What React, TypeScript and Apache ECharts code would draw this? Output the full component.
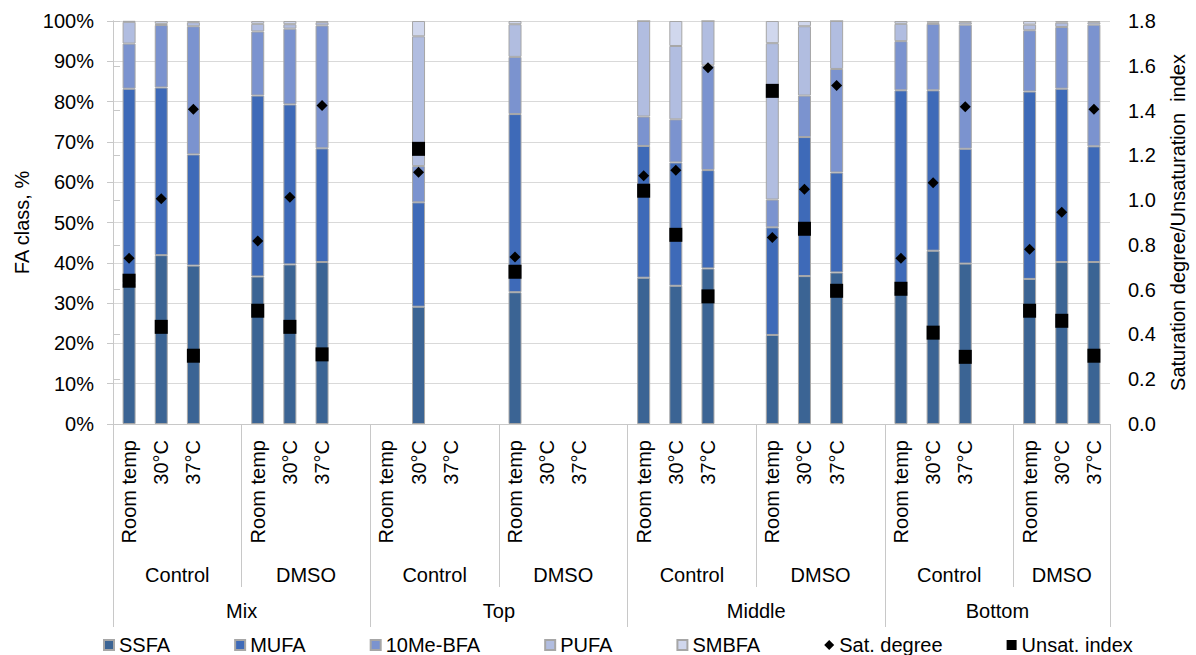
import React, { useEffect, useRef } from "react";
import * as echarts from "echarts";

// Category hierarchy: layer > treatment > temperature
const layers = ["Mix", "Top", "Middle", "Bottom"];
const treatments = ["Control", "DMSO"];
const temps = ["Room temp", "30°C", "37°C"];

// FA class composition (%), one entry per sample in layer > treatment > temperature order
const ssfa = [35, 41.9, 39.3, 36.6, 39.6, 40.2, null, 29.1, null, 32.7, null, null, 36.3, 34.3, 38.6, 22.1, 36.7, 37.6, 33, 43.0, 39.8, 36.0, 40.2, 40.2];
const mufa = [48.2, 41.6, 27.6, 44.9, 39.7, 28.2, null, 25.9, null, 44.2, null, null, 32.7, 30.6, 24.4, 26.7, 34.5, 24.8, 49.8, 39.8, 28.5, 46.5, 43.0, 28.7];
const me10bfa = [11.2, 15.5, 31.8, 15.9, 18.8, 30.5, null, 9.0, null, 14.2, null, null, 7.3, 10.7, 26.0, 6.9, 10.3, 25.7, 12.2, 16.5, 30.8, 15.2, 15.3, 30.2];
const pufa = [5.4, 0.3, 1.0, 1.9, 1.1, 0.8, null, 32.2, null, 8.1, null, null, 23.7, 18.2, 11.0, 38.8, 17.2, 11.9, 4.3, 0.3, 0.6, 1.4, 1.1, 0.6];
const smbfa = [0.2, 0.7, 0.3, 0.7, 0.8, 0.3, null, 3.8, null, 0.8, null, null, 0, 6.2, 0, 5.5, 1.3, 0, 0.7, 0.4, 0.3, 0.9, 0.4, 0.3];

// Indices (right axis)
const satDegree = [0.74, 1.006, 1.406, 0.817, 1.013, 1.423, null, 1.125, null, 0.746, null, null, 1.109, 1.133, 1.591, 0.833, 1.049, 1.512, 0.74, 1.077, 1.417, 0.781, 0.946, 1.406];
const unsatIndex = [0.64, 0.434, 0.305, 0.506, 0.434, 0.311, null, 1.229, null, 0.68, null, null, 1.042, 0.845, 0.57, 1.488, 0.872, 0.595, 0.604, 0.408, 0.3, 0.506, 0.461, 0.305];

const leftTicks = { min: 0, max: 100, interval: 10 };
const rightTicks = { min: 0, max: 1.8, interval: 0.2 };

const FONT = "'Liberation Sans', Arial, sans-serif";
const GRID_LINE = "#d9d9d9";
const AXIS_LINE = "#c8c8c8";

// Build axis slots: three temperatures per treatment, with an empty slot between treatment blocks
const slotLabels: string[] = [];
const slotSample: (number | null)[] = [];
const nBlocks = layers.length * treatments.length;
for (let b = 0; b < nBlocks; b++) {
  for (let t = 0; t < temps.length; t++) {
    slotLabels.push(temps[t]);
    slotSample.push(b * temps.length + t);
  }
  if (b < nBlocks - 1) {
    slotLabels.push("");
    slotSample.push(null);
  }
}
const nSlots = slotLabels.length;

// Block extents on a continuous 0..nSlots scale
const blockStart = (b: number) => b * (temps.length + 1);
const blockWidth = (b: number) => (b < nBlocks - 1 ? temps.length + 1 : temps.length);
const treatmentCenters = Array.from({ length: nBlocks }, (_, b) => blockStart(b) + blockWidth(b) / 2);
const treatmentDividers = Array.from({ length: layers.length }, (_, l) => blockStart(l * 2 + 1));
const layerStart = (l: number) => blockStart(l * 2);
const layerEnd = (l: number) => (l < layers.length - 1 ? blockStart(l * 2 + 2) : nSlots);
const layerCenters = layers.map((_, l) => (layerStart(l) + layerEnd(l)) / 2);
const layerDividers = [...layers.map((_, l) => layerStart(l)), nSlots];

const toSlots = (arr: (number | null)[]) =>
  slotSample.map((i) => (i == null || arr[i] == null ? "-" : arr[i]));

const findIdx = (list: number[], v: number) => list.findIndex((c) => Math.abs(c - v) < 1e-6);

export default function App() {
  const ref = useRef<HTMLDivElement>(null);

  useEffect(() => {
    if (!ref.current) return;
    const chart = echarts.init(ref.current, undefined, { renderer: "svg" });

    const barSeries = [
      { name: "SSFA", data: ssfa, color: "#3b6494" },
      { name: "MUFA", data: mufa, color: "#3e6ab8" },
      { name: "10Me-BFA", data: me10bfa, color: "#7b93cf" },
      { name: "PUFA", data: pufa, color: "#b1bde0" },
      { name: "SMBFA", data: smbfa, color: "#d0d7ed" },
    ].map((s) => ({
      name: s.name,
      type: "bar",
      stack: "fa",
      xAxisIndex: 0,
      yAxisIndex: 0,
      barWidth: 13,
      data: toSlots(s.data),
      itemStyle: { color: s.color, borderColor: "#a6a6a6", borderWidth: 1 },
    }));

    const textStyle = { color: "#000", fontFamily: FONT, fontSize: 20 };

    chart.setOption({
      animation: false,
      textStyle: { fontFamily: FONT },
      grid: { left: 113, right: 84, top: 21, bottom: 231 },
      legend: {
        left: 103,
        top: 635,
        padding: 0,
        itemWidth: 10,
        itemHeight: 10,
        itemGap: 64,
        textStyle: { ...textStyle, lineHeight: 20 },
        data: [
          { name: "SSFA", icon: "rect" },
          { name: "MUFA", icon: "rect" },
          { name: "10Me-BFA", icon: "rect" },
          { name: "PUFA", icon: "rect" },
          { name: "SMBFA", icon: "rect" },
          { name: "Sat. degree", icon: "diamond" },
          { name: "Unsat. index", icon: "rect" },
        ],
      },
      xAxis: [
        {
          type: "category",
          data: slotLabels,
          position: "bottom",
          axisLine: { show: true, lineStyle: { color: AXIS_LINE, width: 1 } },
          axisTick: { show: false },
          axisLabel: { ...textStyle, rotate: 90, interval: 0, margin: 16 },
          splitLine: { show: false },
        },
        {
          type: "value",
          min: 0,
          max: nSlots,
          position: "bottom",
          axisLine: { show: false },
          splitLine: { show: false },
          axisTick: {
            show: true,
            customValues: treatmentDividers,
            length: 163,
            lineStyle: { color: AXIS_LINE, width: 1 },
          },
          axisLabel: {
            ...textStyle,
            customValues: treatmentCenters,
            margin: 141,
            formatter: (v: number) => {
              const i = findIdx(treatmentCenters, v);
              return i < 0 ? "" : treatments[i % treatments.length];
            },
          },
        },
        {
          type: "value",
          min: 0,
          max: nSlots,
          position: "bottom",
          axisLine: { show: false },
          splitLine: { show: false },
          axisTick: {
            show: true,
            customValues: layerDividers,
            length: 203,
            lineStyle: { color: AXIS_LINE, width: 1 },
          },
          axisLabel: {
            ...textStyle,
            customValues: layerCenters,
            margin: 177,
            formatter: (v: number) => {
              const i = findIdx(layerCenters, v);
              return i < 0 ? "" : layers[i];
            },
          },
        },
      ],
      yAxis: [
        {
          type: "value",
          ...leftTicks,
          name: "FA class, %",
          nameLocation: "middle",
          nameRotate: 90,
          nameGap: 81,
          nameTextStyle: textStyle,
          axisLine: { show: true, lineStyle: { color: AXIS_LINE } },
          axisTick: { show: true, length: 6, lineStyle: { color: AXIS_LINE } },
          axisLabel: { ...textStyle, margin: 19, formatter: "{value}%" },
          splitLine: { show: true, lineStyle: { color: GRID_LINE, width: 1 } },
        },
        {
          type: "value",
          ...rightTicks,
          position: "right",
          name: "Saturation degree/Unsaturation  index",
          nameLocation: "middle",
          nameRotate: 90,
          nameGap: 58,
          nameTextStyle: textStyle,
          axisLine: { show: true, lineStyle: { color: AXIS_LINE } },
          axisTick: { show: true, length: 7, lineStyle: { color: AXIS_LINE } },
          axisLabel: { ...textStyle, margin: 18, formatter: (v: number) => v.toFixed(1) },
          splitLine: { show: false },
        },
      ],
      series: [
        ...barSeries,
        {
          name: "Sat. degree",
          type: "scatter",
          xAxisIndex: 0,
          yAxisIndex: 1,
          symbol: "diamond",
          symbolSize: 11,
          z: 5,
          itemStyle: { color: "#000", opacity: 1 },
          data: toSlots(satDegree),
        },
        {
          name: "Unsat. index",
          type: "scatter",
          xAxisIndex: 0,
          yAxisIndex: 1,
          symbol: "rect",
          symbolSize: [13, 14],
          z: 5,
          itemStyle: { color: "#000", opacity: 1 },
          data: toSlots(unsatIndex),
        },
      ],
    });

    return () => chart.dispose();
  }, []);

  return (
    <div
      ref={ref}
      style={{ position: "fixed", left: 0, top: 0, width: 1196, height: 655, background: "#fff" }}
    />
  );
}
